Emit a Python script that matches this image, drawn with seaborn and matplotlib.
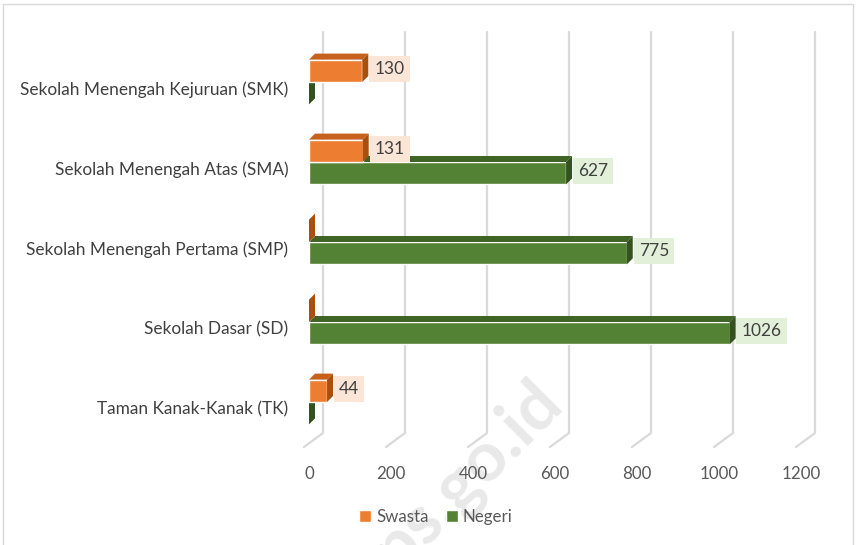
import pandas as pd
import matplotlib.pyplot as plt
import seaborn as sns
from matplotlib.patches import Polygon, Rectangle
from matplotlib.lines import Line2D
from matplotlib.transforms import IdentityTransform, ScaledTranslation

# ================= data =================
jenjang = ['Sekolah Menengah Kejuruan (SMK)', 'Sekolah Menengah Atas (SMA)',
           'Sekolah Menengah Pertama (SMP)', 'Sekolah Dasar (SD)', 'Taman Kanak-Kanak (TK)']
swasta = [130, 131, 0, 0, 44]
negeri = [0, 627, 775, 1026, 0]
status = ['Swasta', 'Negeri']
xticks = [0, 200, 400, 600, 800, 1000, 1200]

df = pd.DataFrame({
    'jenjang': jenjang * 2,
    'status': ['Swasta'] * len(jenjang) + ['Negeri'] * len(jenjang),
    'jumlah': swasta + negeri,
})

# front / top / side colours of the 3D bars, label box colour
warna = {
    'Swasta': ('#ED7D31', '#C8611C', '#A9500F', '#FBE5D6'),
    'Negeri': ('#548235', '#3F6427', '#34521F', '#E2F0D9'),
}

sns.set_style('white')
plt.rcParams['font.family'] = ['Lato', 'DejaVu Sans']

W, H = 856, 545
fig = plt.figure(figsize=(W / 100, H / 100), dpi=100)
# axes in pixels: left 309, right 801, top 42, bottom 442
ax = fig.add_axes([309 / W, (H - 442) / H, 492 / W, 400 / H])
ax.patch.set_visible(False)

sns.barplot(data=df, y='jenjang', x='jumlah', hue='status', hue_order=status,
            order=jenjang, orient='h', width=0.56,
            palette={k: v[0] for k, v in warna.items()}, ax=ax, saturation=1)
handles, labels = ax.get_legend_handles_labels()
ax.get_legend().remove()

ax.set_xlim(0, 1200)
ax.set_ylim(4.5, -0.5)
ax.set_xticks(xticks)
ax.set_xlabel('')
ax.set_ylabel('')
sns.despine(ax=ax, left=True, bottom=True)
ax.tick_params(axis='x', length=0, pad=17, labelsize=12.2, labelcolor='#595959')
ax.tick_params(axis='y', length=0, pad=15, labelsize=12.4, labelcolor='#404040')
for lab in ax.get_yticklabels():
    lab.set_transform(lab.get_transform() + ScaledTranslation(0, -0.06, fig.dpi_scale_trans))

fig.canvas.draw()
idt = IdentityTransform()

# 3D gridlines: back wall + floor diagonal
ybot = H - 447
for t in xticks:
    xf = ax.transData.transform((t, 0))[0]
    xs = [xf - 5, xf + 14, xf + 14]
    ys = [ybot, ybot + 14, H - 32]
    ax.add_artist(Line2D(xs, ys, color='#d9d9d9', lw=1.6, transform=idt,
                         zorder=0.5, clip_on=False))

# 3D faces and data labels
dx, dy = 6, 6
for cont, nama in zip(ax.containers, status):
    depan, atas, samping, kotak = warna[nama]
    zbase = 3 if nama == 'Swasta' else 2
    for bar in cont:
        bar.set_zorder(zbase)
        x0, y0 = bar.get_x(), bar.get_y()
        w, h = bar.get_width(), bar.get_height()
        (px0, pyt), (px1, pyb) = ax.transData.transform([(x0, y0), (x0 + w, y0 + h)])
        top = Polygon([(px0, pyt), (px1, pyt), (px1 + dx, pyt + dy), (px0 + dx, pyt + dy)],
                      closed=True, fc=atas, ec='none', transform=idt,
                      zorder=zbase + 0.1, clip_on=False)
        side = Polygon([(px1, pyb), (px1, pyt), (px1 + dx, pyt + dy), (px1 + dx, pyb + dy)],
                       closed=True, fc=samping, ec='none', transform=idt,
                       zorder=zbase + 0.2, clip_on=False)
        ax.add_artist(top)
        ax.add_artist(side)
        if w > 0:
            ax.annotate(f'{w:.0f}', xy=(x0 + w, y0 + h / 2), xytext=(12, 2),
                        textcoords='offset pixels', ha='left', va='center',
                        fontsize=12.5, color='#404040', zorder=5,
                        bbox=dict(boxstyle='square,pad=0.3', fc=kotak, ec='none'))

fig.legend(handles, labels, loc='center', bbox_to_anchor=(436 / W, 1 - 517 / H),
           ncol=2, frameon=False, fontsize=12.2, handlelength=0.7, handleheight=0.7,
           handletextpad=0.3, columnspacing=1.0, labelcolor='#595959')

# watermark (behind everything) and chart border
fig.text(552 / W, 1 - 392 / H, 'bps.go.id', rotation=45, rotation_mode='anchor',
         ha='right', va='center', fontsize=50, fontweight='bold',
         color='#e9e9e9', zorder=-1)
fig.add_artist(Rectangle((3 / W, -0.02), 850 / W, 1 - 4 / H + 0.02, fill=False,
                         ec='#d9d9d9', lw=1, transform=fig.transFigure))

plt.savefig('out.png', dpi=100)
